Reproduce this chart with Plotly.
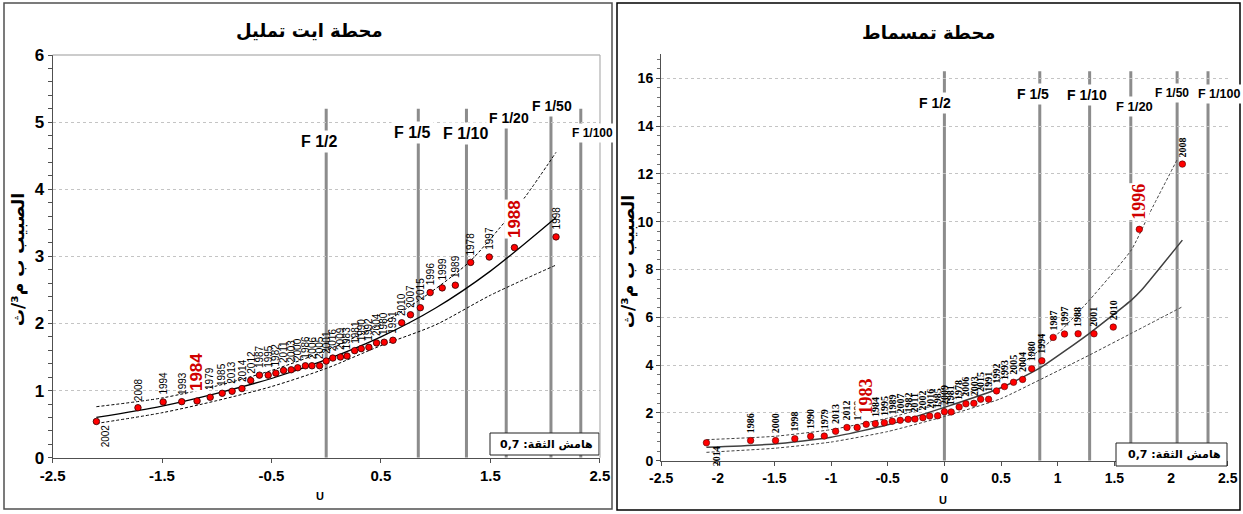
import plotly.graph_objects as go

# ---------------- data ----------------
# Station Ait Tamlil (left)
ait_u = [-2.10, -1.72, -1.49, -1.32, -1.18, -1.06, -0.95, -0.86, -0.77, -0.69,
         -0.61, -0.53, -0.46, -0.39, -0.32, -0.26, -0.19, -0.13, -0.06, 0.00,
         0.06, 0.13, 0.19, 0.26, 0.32, 0.39, 0.46, 0.53, 0.61, 0.69,
         0.77, 0.86, 0.95, 1.06, 1.18, 1.32, 1.49, 1.72, 2.10]
ait_q = [0.54, 0.745, 0.83, 0.835, 0.845, 0.90, 0.96, 0.99, 1.03, 1.15,
         1.23, 1.23, 1.26, 1.30, 1.31, 1.34, 1.37, 1.37, 1.37, 1.44,
         1.485, 1.50, 1.515, 1.595, 1.625, 1.645, 1.71, 1.72, 1.75, 2.01,
         2.13, 2.235, 2.46, 2.53, 2.57, 2.91, 2.99, 3.13, 3.29]
ait_years = ["2002", "2008", "1994", "1993", "1984", "1979", "1985", "2013", "2014", "2012",
             "1987", "1995", "1982", "2011", "2003", "2000", "1986", "2006", "2005", "2001",
             "2016", "2009", "1983", "1981", "1990", "1992", "2004", "1980", "1991", "2010",
             "2007", "2015", "1996", "1999", "1989", "1978", "1997", "1988", "1998"]
ait_red = ["1984", "1988"]
ait_below = ["2002"]

ait_fit_u = [-2.1, -1.5, -1.0, -0.5, 0.0, 0.5, 1.0, 1.5, 2.1]
ait_fit_q = [0.60, 0.77, 0.96, 1.18, 1.46, 1.80, 2.23, 2.78, 3.58]
ait_up_u = [-2.1, -1.5, -1.0, -0.5, 0.0, 0.5, 0.95, 1.31, 1.62, 1.82, 2.1]
ait_up_q = [0.76, 0.89, 1.07, 1.30, 1.60, 1.99, 2.46, 2.92, 3.49, 3.89, 4.55]
ait_lo_u = [-2.1, -1.5, -1.0, -0.5, 0.0, 0.5, 1.0, 1.5, 2.1]
ait_lo_q = [0.51, 0.67, 0.85, 1.06, 1.33, 1.67, 1.98, 2.42, 2.87]

# Station Tamesmat (right)
tam_u = [-2.10, -1.71, -1.49, -1.32, -1.18, -1.06, -0.96, -0.86, -0.77, -0.69,
         -0.61, -0.53, -0.46, -0.39, -0.32, -0.26, -0.19, -0.13, -0.06, 0.00,
         0.06, 0.13, 0.19, 0.26, 0.32, 0.39, 0.46, 0.53, 0.61, 0.69,
         0.77, 0.86, 0.96, 1.06, 1.18, 1.32, 1.49, 1.72, 2.10]
tam_q = [0.75, 0.84, 0.84, 0.92, 1.02, 1.03, 1.23, 1.39, 1.39, 1.52,
         1.55, 1.59, 1.65, 1.69, 1.73, 1.74, 1.80, 1.87, 1.88, 2.05,
         2.04, 2.25, 2.38, 2.40, 2.57, 2.57, 2.92, 3.10, 3.28, 3.40,
         3.85, 4.18, 5.16, 5.30, 5.31, 5.31, 5.59, 9.68, 12.41]
tam_years = ["2014", "1986", "2000", "1998", "1990", "1979", "2013", "2012", "1999", "1983",
             "1984", "1995", "1989", "2007", "1982", "2011", "2002", "2016", "1985", "2009",
             "1981", "1978", "2006", "2003", "2015", "1991", "1992", "1993", "2005", "2004",
             "1980", "1994", "1987", "1997", "1988", "2001", "2010", "1996", "2008"]
tam_red = ["1983", "1996"]
tam_below = ["2014"]

tam_fit_u = [-2.1, -1.5, -1.0, -0.5, 0.0, 0.5, 0.84, 1.28, 1.65, 1.74, 2.1]
tam_fit_q = [0.56, 0.70, 0.98, 1.50, 2.23, 3.05, 3.87, 5.33, 6.72, 7.14, 9.23]
tam_up_u = [-2.1, -1.5, -1.0, -0.5, 0.0, 0.5, 0.93, 1.28, 1.65, 1.81, 2.06]
tam_up_q = [0.88, 1.02, 1.30, 1.78, 2.45, 3.45, 4.98, 6.72, 8.82, 10.35, 12.65]
tam_lo_u = [-2.1, -1.5, -1.0, -0.5, 0.0, 0.5, 0.84, 1.28, 1.65, 2.1]
tam_lo_q = [0.35, 0.52, 0.78, 1.22, 1.85, 2.60, 3.38, 4.42, 5.33, 6.44]

# return periods (vertical lines)
rp_labels = ["F 1/2", "F 1/5", "F 1/10", "F 1/20", "F 1/50", "F 1/100"]
rp_u = [0.0, 0.8416, 1.2816, 1.6449, 2.0537, 2.3263]

# tick labels
ait_xticks = [-2.5, -1.5, -0.5, 0.5, 1.5, 2.5]
ait_xtext = ["-2.5", "-1.5", "-0.5", "0.5", "1.5", "2.5"]
ait_yticks = [0, 1, 2, 3, 4, 5, 6]
ait_ytext = ["0", "1", "2", "3", "4", "5", "6"]
tam_xticks = [-2.5, -2, -1.5, -1, -0.5, 0, 0.5, 1, 1.5, 2, 2.5]
tam_xtext = ["-2.5", "-2", "-1.5", "-1", "-0.5", "0", "0.5", "1", "1.5", "2", "2.5"]
tam_yticks = [0, 2, 4, 6, 8, 10, 12, 14, 16]
tam_ytext = ["0", "2", "4", "6", "8", "10", "12", "14", "16"]

title_left = "محطة ايت تمليل"
title_right = "محطة تمسماط"
ytitle = "الصبيب ب م³/ث"
xtitle = "U"
conf_text = "هامش الثقة: 0,7"

# ---------------- layout helpers ----------------
W, H = 1243, 514
def px(x):
    return x / W
def py(y):
    return 1 - y / H

SANS = "Liberation Sans, Arial, sans-serif"
SERIF = "Liberation Serif, Times New Roman, serif"
ARAB = "DejaVu Sans, sans-serif"

fig = go.Figure()

# ---- left chart traces ----
fig.add_trace(go.Scatter(x=ait_fit_u, y=ait_fit_q, mode="lines", line=dict(color="black", width=1.3, shape="spline", smoothing=0.8),
                         xaxis="x", yaxis="y", showlegend=False, hoverinfo="skip"))
fig.add_trace(go.Scatter(x=ait_up_u, y=ait_up_q, mode="lines", line=dict(color="black", width=1, dash="3px,2px", shape="spline", smoothing=0.8),
                         xaxis="x", yaxis="y", showlegend=False, hoverinfo="skip"))
fig.add_trace(go.Scatter(x=ait_lo_u, y=ait_lo_q, mode="lines", line=dict(color="black", width=1, dash="3px,2px", shape="spline", smoothing=0.8),
                         xaxis="x", yaxis="y", showlegend=False, hoverinfo="skip"))
fig.add_trace(go.Scatter(x=ait_u, y=ait_q, mode="markers", marker=dict(color="#ff0000", size=6.5, line=dict(color="#300000", width=0.8)),
                         xaxis="x", yaxis="y", showlegend=False))

# ---- right chart traces ----
fig.add_trace(go.Scatter(x=tam_fit_u, y=tam_fit_q, mode="lines", line=dict(color="#404040", width=1.5, shape="spline", smoothing=0.5),
                         xaxis="x2", yaxis="y2", showlegend=False, hoverinfo="skip"))
fig.add_trace(go.Scatter(x=tam_up_u, y=tam_up_q, mode="lines", line=dict(color="#404040", width=1, dash="3px,2px", shape="spline", smoothing=0.5),
                         xaxis="x2", yaxis="y2", showlegend=False, hoverinfo="skip"))
fig.add_trace(go.Scatter(x=tam_lo_u, y=tam_lo_q, mode="lines", line=dict(color="#404040", width=1, dash="3px,2px", shape="spline", smoothing=0.5),
                         xaxis="x2", yaxis="y2", showlegend=False, hoverinfo="skip"))
fig.add_trace(go.Scatter(x=tam_u, y=tam_q, mode="markers", marker=dict(color="#ff0000", size=6.5, line=dict(color="#500000", width=0.6)),
                         xaxis="x2", yaxis="y2", showlegend=False))

shapes = []
annotations = []

# vertical return-period lines
for u in rp_u:
    shapes.append(dict(type="line", xref="x", yref="y", x0=u, x1=u, y0=0, y1=5.2,
                       line=dict(color="#8c8c8c", width=3), layer="below"))
    shapes.append(dict(type="line", xref="x2", yref="y2", x0=u, x1=u, y0=0, y1=16.3,
                       line=dict(color="#8c8c8c", width=3), layer="below"))

# return-period labels (position offsets per chart)
ait_lab_pos = [(-0.06, 4.71, 16), (0.79, 4.84, 16), (1.275, 4.83, 16), (1.67, 5.06, 14), (2.06, 5.24, 14), (2.43, 4.84, 12)]
tam_lab_pos = [(-0.08, 14.95, 14), (0.78, 15.33, 14), (1.26, 15.3, 14), (1.675, 14.84, 13), (2.01, 15.37, 12), (2.42, 15.33, 12.5)]
for lab, (x, y, s) in zip(rp_labels, ait_lab_pos):
    annotations.append(dict(x=x, y=y, xref="x", yref="y", text=lab, showarrow=False, bgcolor="white", borderpad=2,
                            xanchor="center", yanchor="middle",
                            font=dict(family=SANS, size=s, color="black", weight="bold")))
for lab, (x, y, s) in zip(rp_labels, tam_lab_pos):
    annotations.append(dict(x=x, y=y, xref="x2", yref="y2", text=lab, showarrow=False, bgcolor="white", borderpad=2,
                            xanchor="center", yanchor="middle",
                            font=dict(family=SANS, size=s, color="black", weight="bold")))

# point labels
def add_labels(us, qs, years, red, below, xr, yr, family, size, redsize, bold):
    for u, q, yv in zip(us, qs, years):
        if yv in red:
            annotations.append(dict(x=u, y=q, xref=xr, yref=yr, text=yv, showarrow=False, textangle=-90,
                                    yanchor="bottom", xanchor="center", yshift=9, bgcolor="white", borderpad=0,
                                    font=dict(family=family, size=redsize, color="#d00000", weight="bold")))
        elif yv in below:
            annotations.append(dict(x=u, y=q, xref=xr, yref=yr, text=yv, showarrow=False, textangle=-90,
                                    yanchor="top", xanchor="center", yshift=-2, xshift=10, borderpad=0,
                                    font=dict(family=family, size=size, color="black", weight=bold)))
        else:
            annotations.append(dict(x=u, y=q, xref=xr, yref=yr, text=yv, showarrow=False, textangle=-90,
                                    yanchor="bottom", xanchor="center", yshift=6, borderpad=0,
                                    font=dict(family=family, size=size, color="black", weight=bold)))

add_labels(ait_u, ait_q, ait_years, ait_red, ait_below, "x", "y", SANS, 10, 17, "normal")
add_labels(tam_u, tam_q, tam_years, tam_red, tam_below, "x2", "y2", SERIF, 10, 18, "bold")

def paper_text(x, y, text, size, family=ARAB, angle=0, xanchor="center"):
    annotations.append(dict(x=px(x), y=py(y), xref="paper", yref="paper", text=text, showarrow=False,
                            xanchor=xanchor, yanchor="middle", textangle=angle,
                            font=dict(family=family, size=size, color="black", weight="bold")))

# titles
paper_text(309, 30, title_left, 18)
paper_text(929, 32, title_right, 18)
# y titles
paper_text(18, 260, ytitle, 17, angle=-90)
paper_text(628, 262, ytitle, 17, angle=-90)
# x titles
paper_text(320, 496, xtitle, 11, family=SANS)
paper_text(943, 500, xtitle, 11, family=SANS)

# confidence boxes
for (x0, x1, y0, y1) in [(490, 599, 433, 455), (1116, 1227, 443, 466)]:
    shapes.append(dict(type="rect", xref="paper", yref="paper", x0=px(x0), x1=px(x1), y0=py(y1), y1=py(y0),
                       line=dict(color="#202020", width=1), fillcolor="white", layer="above"))
    paper_text(x1 - 4, (y0 + y1) / 2, conf_text, 11, xanchor="right")

# left plot area top/right border
shapes.append(dict(type="line", xref="paper", yref="paper", x0=px(52.6), x1=px(600), y0=py(55), y1=py(55),
                   line=dict(color="#9a9a9a", width=1.2), layer="above"))
shapes.append(dict(type="line", xref="paper", yref="paper", x0=px(600), x1=px(600), y0=py(55), y1=py(457.7),
                   line=dict(color="#b0b0b0", width=1.2), layer="above"))

# outer frames
shapes.append(dict(type="rect", xref="paper", yref="paper", x0=px(4), x1=px(612), y0=py(509), y1=py(3),
                   line=dict(color="#505050", width=1.5), layer="above"))
shapes.append(dict(type="rect", xref="paper", yref="paper", x0=px(617), x1=px(1240), y0=py(510), y1=py(3),
                   line=dict(color="#000000", width=1.5), layer="above"))

axis_common = dict(showline=True, linecolor="#505050", linewidth=1.2, zeroline=False, ticks="outside",
                   ticklen=4, tickcolor="#505050", automargin=False)

fig.update_layout(
    template="none",
    width=W, height=H, autosize=False,
    margin=dict(l=0, r=0, t=0, b=0, pad=0),
    paper_bgcolor="white", plot_bgcolor="white",
    showlegend=False,
    xaxis=dict(domain=[px(52.6), px(599.8)], range=[-2.5, 2.5], anchor="y", tickmode="array",
               tickvals=ait_xticks, ticktext=ait_xtext, showgrid=False,
               tickfont=dict(family=SANS, size=15, color="black", weight="bold"), **axis_common),
    yaxis=dict(domain=[py(457.7), py(55)], range=[0, 6], anchor="x", tickmode="array",
               tickvals=ait_yticks, ticktext=ait_ytext, showgrid=True, gridcolor="#c4c4c4", griddash="dot",
               gridwidth=1, minor=dict(dtick=0.2, ticks="outside", ticklen=4, tickcolor="#505050", showgrid=False),
               tickfont=dict(family=SANS, size=17, color="black", weight="bold"), **axis_common),
    xaxis2=dict(domain=[px(661.1), px(1227.7)], range=[-2.5, 2.5], anchor="y2", tickmode="array",
                tickvals=tam_xticks, ticktext=tam_xtext, showgrid=False,
                tickfont=dict(family=SANS, size=14, color="black", weight="bold"), **axis_common),
    yaxis2=dict(domain=[py(460.7), py(54.4)], range=[0, 17], anchor="x2", tickmode="array",
                tickvals=tam_yticks, ticktext=tam_ytext, showgrid=True, gridcolor="#c4c4c4", griddash="dot",
                gridwidth=1, minor=dict(dtick=0.4, ticks="outside", ticklen=3, tickcolor="#707070", showgrid=False),
                tickfont=dict(family=SANS, size=14, color="black", weight="bold"), **axis_common),
    shapes=shapes,
    annotations=annotations,
)

fig.write_html("out.html", config={"displayModeBar": False},
               post_script="document.body.style.margin='0';document.body.style.padding='0';document.body.style.overflow='hidden';")
